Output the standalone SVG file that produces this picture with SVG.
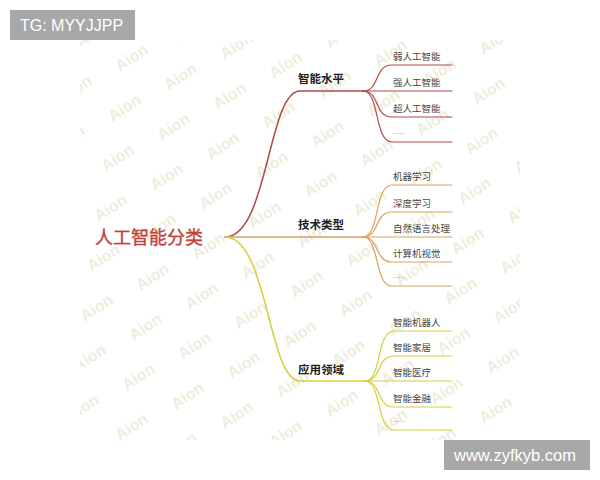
<svg xmlns="http://www.w3.org/2000/svg" width="600" height="480" viewBox="0 0 600 480">
<defs>
<style>
.wm{font-family:"Liberation Sans",Arial,sans-serif;font-size:16px;font-weight:bold;fill:#edecdc;text-anchor:middle}
.root{font-family:"Noto Sans CJK SC",sans-serif;font-size:18px;fill:#c0413b;stroke:#c0413b;stroke-width:0.35}
.br{font-family:"Noto Sans CJK SC",sans-serif;font-size:11.5px;font-weight:bold;fill:#1e1e1e}
.lf{font-family:"Noto Sans CJK SC",sans-serif;font-size:9.5px;fill:#444}
.dots{font-family:"Noto Sans CJK SC",sans-serif;font-size:6px;fill:#666}
.badge{fill:#a8a8a8}
.bt{font-family:"Liberation Sans",Arial,sans-serif;fill:#fff}
.c{fill:none;stroke-linecap:round}
.red{stroke:#b24a48}
.org{stroke:#d9a35c}
.yel{stroke:#d6cf3c}
.main{stroke-width:1.5}
.leaf{stroke-width:1.2}
</style>
<pattern id="wmp" patternUnits="userSpaceOnUse" width="49" height="50" patternTransform="matrix(1,0.388,-0.14,1,0,0)">
<text class="wm" transform="translate(37.7,9.5) matrix(0.7232,-0.8252,0.628,0.5951,0,0)">Aion</text>
<text class="wm" transform="translate(-11.3,9.5) matrix(0.7232,-0.8252,0.628,0.5951,0,0)">Aion</text>
<text class="wm" transform="translate(37.7,59.5) matrix(0.7232,-0.8252,0.628,0.5951,0,0)">Aion</text>
<text class="wm" transform="translate(-11.3,59.5) matrix(0.7232,-0.8252,0.628,0.5951,0,0)">Aion</text>
</pattern>
</defs>
<rect width="600" height="480" fill="#fff"/>
<rect x="80" y="40" width="440" height="400" fill="url(#wmp)"/>

<g id="connectors">
<path class="c red main" d="M225,237 C268,237 268,91 300,91 L363,91"/>
<path class="c org main" d="M225,237 L363,237"/>
<path class="c yel main" d="M225,237 C268,237 268,381 300,381 L365,381"/>

<path class="c red leaf" d="M363,91 C380,91 374,65 392,65 L452,65"/>
<path class="c red leaf" d="M363,91 L452,91"/>
<path class="c red leaf" d="M363,91 C380,91 374,117 392,117 L452,117"/>
<path class="c red leaf" d="M363,91 C380,91 374,142 392,142 L452,142"/>

<path class="c org leaf" d="M363,237 C380,237 374,185 392,185 L452,185"/>
<path class="c org leaf" d="M363,237 C380,237 374,212 392,212 L452,212"/>
<path class="c org leaf" d="M363,237 L452,237"/>
<path class="c org leaf" d="M363,237 C380,237 374,262 392,262 L452,262"/>
<path class="c org leaf" d="M363,237 C380,237 374,286 392,286 L452,286"/>

<path class="c yel leaf" d="M365,381 C382,381 376,331 394,331 L452,331"/>
<path class="c yel leaf" d="M365,381 C382,381 376,356 394,356 L452,356"/>
<path class="c yel leaf" d="M365,381 L452,381"/>
<path class="c yel leaf" d="M365,381 C382,381 376,407 394,407 L452,407"/>
<path class="c yel leaf" d="M365,381 C382,381 376,430 394,430 L452,430"/>
</g>

<g id="root"><text class="root" x="95" y="244">人工智能分类</text></g>

<g id="b1"><text class="br" x="298" y="83">智能水平</text></g>
<g id="b1-1"><text class="lf" x="393" y="60">弱人工智能</text></g>
<g id="b1-2"><text class="lf" x="393" y="86">强人工智能</text></g>
<g id="b1-3"><text class="lf" x="393" y="112">超人工智能</text></g>
<g id="b1-4"><text class="dots" x="393" y="136">……</text></g>

<g id="b2"><text class="br" x="298" y="229">技术类型</text></g>
<g id="b2-1"><text class="lf" x="393" y="180">机器学习</text></g>
<g id="b2-2"><text class="lf" x="393" y="207">深度学习</text></g>
<g id="b2-3"><text class="lf" x="393" y="232">自然语言处理</text></g>
<g id="b2-4"><text class="lf" x="393" y="257">计算机视觉</text></g>
<g id="b2-5"><text class="dots" x="393" y="280">……</text></g>

<g id="b3"><text class="br" x="298" y="374">应用领域</text></g>
<g id="b3-1"><text class="lf" x="393" y="326">智能机器人</text></g>
<g id="b3-2"><text class="lf" x="393" y="351">智能家居</text></g>
<g id="b3-3"><text class="lf" x="393" y="376">智能医疗</text></g>
<g id="b3-4"><text class="lf" x="393" y="402">智能金融</text></g>
<g id="b3-5"><text class="dots" x="393" y="424">……</text></g>

<g id="badge-tg">
<rect class="badge" x="10" y="10" width="125" height="30"/>
<text class="bt" x="20" y="31" font-size="16">TG: MYYJJPP</text>
</g>
<g id="badge-url">
<rect class="badge" x="444" y="440" width="146" height="30"/>
<text class="bt" x="454" y="461" font-size="16.5">www.zyfkyb.com</text>
</g>
</svg>
